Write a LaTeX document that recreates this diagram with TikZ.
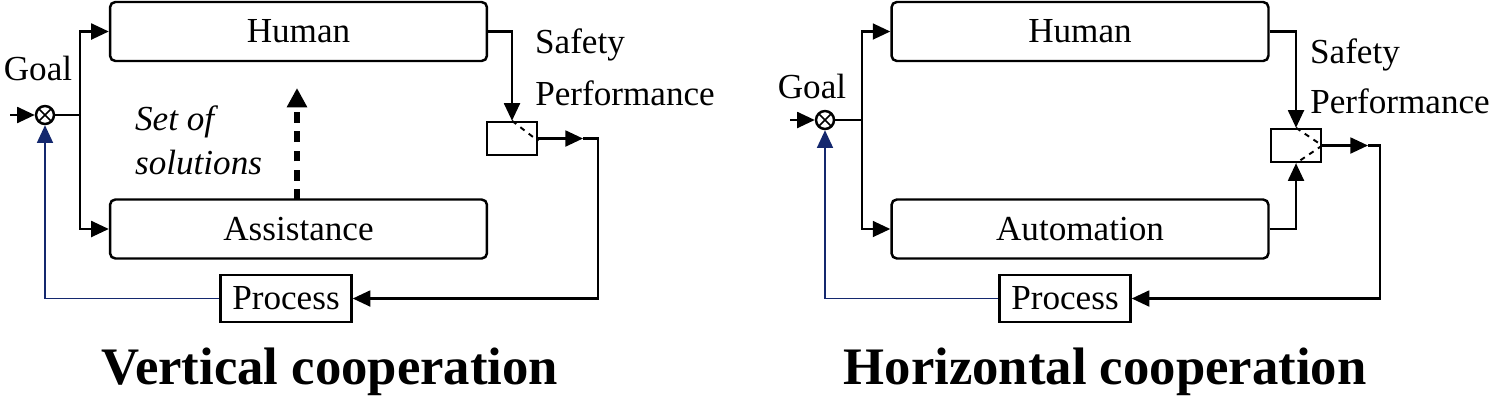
\documentclass[tikz,border=0pt]{standalone}
\usepackage{fontspec}
\setmainfont{Liberation Serif}
\usetikzlibrary{arrows.meta}
\begin{document}
\begin{tikzpicture}[x=0.02cm,y=-0.02cm,line width=1.4pt,
  blk/.style={draw,rounded corners=3pt,minimum width=7.54cm,minimum height=1.18cm,inner sep=0pt,font=\fontsize{20}{21}\selectfont},
  pbox/.style={draw,minimum width=2.62cm,minimum height=0.94cm,inner sep=0pt,font=\fontsize{20}{21}\selectfont},
  sw/.style={draw,minimum width=1.0cm,minimum height=0.66cm,inner sep=0pt},
  sum/.style={draw,circle,minimum size=0.36cm,inner sep=0pt,path picture={\draw[line width=0.9pt] (path picture bounding box.north west)--(path picture bounding box.south east) (path picture bounding box.north east)--(path picture bounding box.south west);}},
  lbl/.style={font=\fontsize{20}{21}\selectfont},
  ttl/.style={font=\fontsize{30}{32}\bfseries\selectfont},
  arr/.style={-{Triangle[length=10pt,width=9pt]}},
  fb/.style={draw={rgb,255:red,20;green,40;blue,110},line width=1.1pt,-{Triangle[length=10pt,width=9pt]}}]
\useasboundingbox (0,0) rectangle (1500,403);
% ---------- left ----------
\node[blk] (h1) at (298.5,31.5) {Human};
\node[blk] (a1) at (298.5,229) {Assistance};
\node[sum] (g1) at (45,115) {};
\node[lbl] (gl1) at (38,68) {Goal};
\coordinate (in1) at (10,115);
\draw[arr] (in1) -- (g1);
\coordinate (s1) at (80,115);
\draw (g1) -- (s1);
\draw[arr] (s1) |- (h1.west);
\draw[arr] (s1) |- (a1.west);
\node[sw] (w1) at (512,138.5) {};
\coordinate (m1) at (583,138.5);
\coordinate (o1) at (598,138.5);
\draw[arr] (h1.east) -| (w1.north);
\draw[dashed,line width=1.1pt] (w1.north) -- ([yshift=-0.05cm]w1.east);
\draw[arr] (w1.east) -- (m1);
\node[pbox] (p1) at (286,298.5) {Process};
\draw[arr] (m1) -- (o1) |- (p1.east);
\draw[fb] (p1.west) -| (g1.south);
\coordinate (d0) at (297,200);
\coordinate (d1) at (297,88);
\draw[line width=3.2pt,dash pattern=on 6pt off 5pt,-{Triangle[length=11pt,width=11pt]}] (d0) -- (d1);
\node[lbl,font=\fontsize{20}{21}\itshape\selectfont,align=left,anchor=west] (sol) at (128,140) {Set of\\[4pt]solutions};
\node[lbl] (sf1) at (580,45) {Safety};
\node[lbl] (pf1) at (625,93) {Performance};
\node[ttl] (t1) at (330,372) {Vertical cooperation};
% ---------- right ----------
\node[blk] (h2) at (1080,31.5) {Human};
\node[blk] (a2) at (1080,229) {Automation};
\node[sum] (g2) at (825,120) {};
\node[lbl] (gl2) at (812,86) {Goal};
\coordinate (in2) at (790,120);
\draw[arr] (in2) -- (g2);
\coordinate (s2) at (862,120);
\draw (g2) -- (s2);
\draw[arr] (s2) |- (h2.west);
\draw[arr] (s2) |- (a2.west);
\node[sw] (w2) at (1296,145.5) {};
\coordinate (m2) at (1368,145.5);
\coordinate (o2) at (1380,145.5);
\draw[arr] (h2.east) -| (w2.north);
\draw[arr] (a2.east) -| (w2.south);
\draw[dashed,line width=1.1pt] (w2.north) -- (w2.east) -- (w2.south);
\draw[arr] (w2.east) -- (m2);
\node[pbox] (p2) at (1065,298.5) {Process};
\draw[arr] (m2) -- (o2) |- (p2.east);
\draw[fb] (p2.west) -| (g2.south);
\node[lbl] (sf2) at (1355,55) {Safety};
\node[lbl] (pf2) at (1400,101) {Performance};
\node[ttl] (t2) at (1105,372) {Horizontal cooperation};
\end{tikzpicture}
\end{document}
